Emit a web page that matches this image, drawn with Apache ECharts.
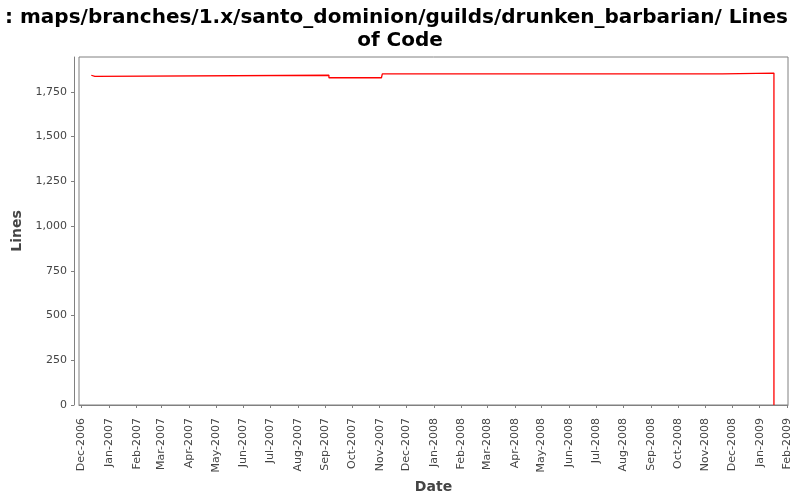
<!DOCTYPE html>
<html>
<head>
<meta charset="utf-8">
<script src="https://cdn.jsdelivr.net/npm/echarts@6/dist/echarts.min.js"></script>
<style>html,body{margin:0;padding:0;background:#fff}#c{width:800px;height:500px}</style>
</head>
<body>
<div id="c"></div>
<script>
var dates = ['2006-12-12','2006-12-12','2006-12-16','2007-09-05','2007-11-03','2007-11-04','2008-11-20','2009-01-17','2009-01-17'];
var values = [1843, 1837, 1843, 1829, 1824, 1851, 1855, 1855, 0];
var titleText = ': maps/branches/1.x/santo_dominion/guilds/drunken_barbarian/ Lines \nof Code';
var monthNames = ['Jan','Feb','Mar','Apr','May','Jun','Jul','Aug','Sep','Oct','Nov','Dec'];
var yTickInterval = 250;
var yMax = 1945;
var xMin = new Date(2006, 11, 1).getTime() - 2.8 * 86400000;
var xMax = new Date(2009, 1, 1).getTime() + 0.8 * 86400000;

function parseDate(s) { var p = s.split('-'); return new Date(+p[0], +p[1] - 1, +p[2]).getTime(); }
var seriesData = dates.map(function (d, i) { return [parseDate(d), values[i]]; });

var chart = echarts.init(document.getElementById('c'), null, { renderer: 'canvas' });
chart.setOption({
  animation: false,
  backgroundColor: '#ffffff',
  title: {
    text: titleText,
    left: 'center',
    top: 1,
    textStyle: { fontFamily: 'DejaVu Sans', fontWeight: 'bold', fontSize: 20, color: '#000', lineHeight: 23 }
  },
  grid: { left: 79, top: 57, right: 12, bottom: 95, show: true, borderColor: '#808080', borderWidth: 1, backgroundColor: '#fff' },
  xAxis: {
    type: 'time',
    min: xMin, max: xMax,
    offset: 4,
    minInterval: 28 * 86400000,
    maxInterval: 31 * 86400000,
    name: 'Date', nameLocation: 'middle', nameGap: 66,
    nameTextStyle: { fontFamily: 'DejaVu Sans', fontSize: 14, fontWeight: 'bold', color: '#444' },
    axisLine: { show: true, lineStyle: { color: '#808080', width: 1 } },
    axisTick: { show: true, length: 3, lineStyle: { color: '#808080' } },
    splitLine: { show: false },
    axisLabel: {
      rotate: 90, margin: 9, fontFamily: 'DejaVu Sans', fontSize: 11, color: '#444',
      showMinLabel: false, showMaxLabel: false, hideOverlap: false,
      formatter: function (v) { var d = new Date(v); return monthNames[d.getMonth()] + '-' + d.getFullYear(); }
    }
  },
  yAxis: {
    type: 'value',
    min: 0, max: yMax, interval: yTickInterval,
    offset: 5,
    name: 'Lines', nameLocation: 'middle', nameGap: 46,
    nameTextStyle: { fontFamily: 'DejaVu Sans', fontSize: 14, fontWeight: 'bold', color: '#444' },
    axisLine: { show: true, lineStyle: { color: '#808080', width: 1 } },
    axisTick: { show: true, length: 3, lineStyle: { color: '#808080' } },
    splitLine: { show: false },
    axisLabel: {
      margin: 7, fontFamily: 'DejaVu Sans', fontSize: 11, color: '#444',
      showMaxLabel: false,
      formatter: function (v) { return v.toLocaleString('en-US'); }
    }
  },
  series: [{
    type: 'line',
    step: 'end',
    data: seriesData,
    showSymbol: false,
    symbol: 'none',
    lineStyle: { color: '#ff0000', width: 1.3 },
    itemStyle: { color: '#ff0000' }
  }]
});
</script>
</body>
</html>
